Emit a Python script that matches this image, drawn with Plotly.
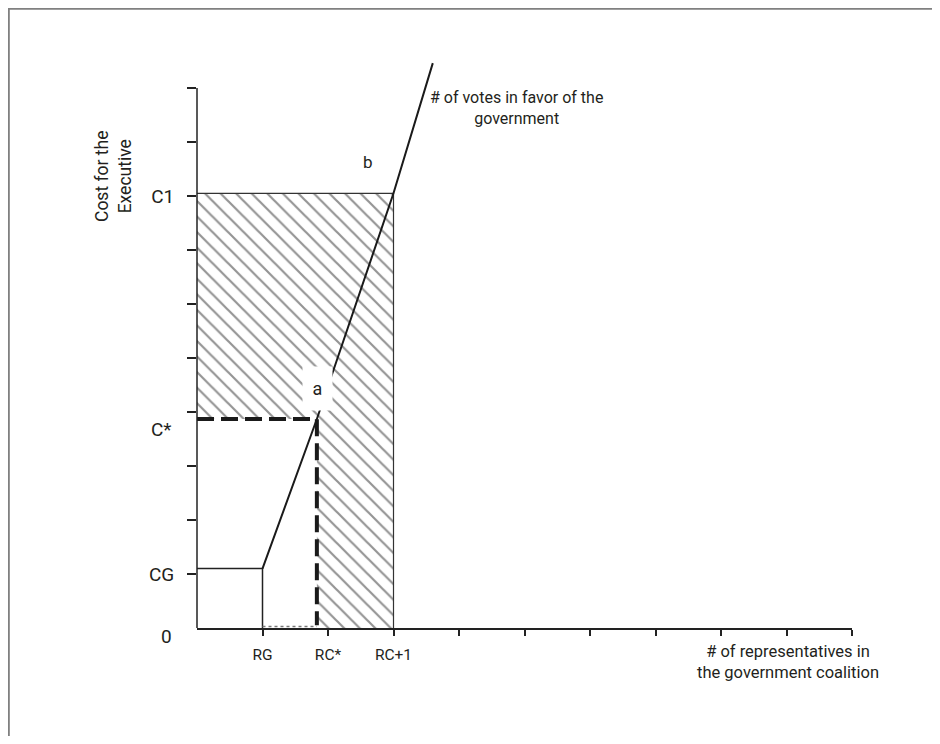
import plotly.graph_objects as go

# ---- data ----
x_tick_vals = [1, 2, 3, 4, 5, 6, 7, 8, 9, 10]
x_tick_text = ["RG", "RC*", "RC+1", "", "", "", "", "", "", ""]
y_tick_vals = [1, 2, 3, 4, 5, 6, 7, 8, 9, 10]
y_tick_text = ["CG", "", "", "", "", "", "", "C1", "", ""]

RG = 1.0          # representatives of the government party
RC_star = 1.83    # x of point a
RC1 = 3.0         # RC+1
CG = 1.1          # cost of government alone
C_star = 3.87     # cost at point a
C1 = 8.05         # cost at point b

vote_x = [RG, RC_star, RC1, 3.6]
vote_y = [CG, C_star, C1, 10.46]

hatch_x = [0, RC1, RC1, RC_star, RC_star, 0, 0]
hatch_y = [C1, C1, 0, 0, C_star, C_star, C1]

X_RANGE = [0, 10]
Y_RANGE = [0, 10.5]
Y_AXIS_TOP = 10

FONT = "Roboto, sans-serif"
INK = "#231f20"

# layout geometry (page has an 8px body margin)
OFF = 8
W, H = 924, 728
ML, MT = 189, 53
PW, PH = 655, 567
MR, MB = W - ML - PW, H - MT - PH


def px_x(p):
    """page pixel x -> paper x"""
    return (p - OFF - ML) / PW


def px_y(p):
    """page pixel y -> paper y"""
    return (MT + PH - (p - OFF)) / PH


def label(px, py, text, size, xanchor="center", **kw):
    return dict(x=px_x(px), y=px_y(py), xref="paper", yref="paper",
                text=text, showarrow=False, xanchor=xanchor, yanchor="middle",
                font=dict(size=size, color=INK, family=FONT), **kw)


fig = go.Figure()

# hatched region
fig.add_trace(go.Scatter(
    x=hatch_x, y=hatch_y, mode="lines", fill="toself",
    fillcolor="white",
    fillpattern=dict(shape="\\", fgcolor="#2a2a2a", bgcolor="white",
                     size=11, solidity=0.2),
    line=dict(width=0), hoverinfo="skip", showlegend=False))

# outline of hatched rectangle (top and right edges)
fig.add_trace(go.Scatter(
    x=[0, RC1, RC1], y=[C1, C1, 0], mode="lines",
    line=dict(color="#333", width=1.2), showlegend=False, hoverinfo="skip"))

# CG box
fig.add_trace(go.Scatter(
    x=[0, RG, RG], y=[CG, CG, 0], mode="lines",
    line=dict(color="#222", width=1.5), showlegend=False, hoverinfo="skip"))

# dotted segment along the axis
fig.add_trace(go.Scatter(
    x=[RG, RC_star], y=[0.03, 0.03], mode="lines",
    line=dict(color="#777", width=1.5, dash="dot"), showlegend=False,
    hoverinfo="skip"))

# dashed lines to point a
fig.add_trace(go.Scatter(
    x=[0, RC_star, RC_star], y=[C_star, C_star, 0.05], mode="lines",
    line=dict(color="#1a1a1a", width=4, dash="17px,7px"), showlegend=False,
    hoverinfo="skip"))

# votes in favor line
fig.add_trace(go.Scatter(
    x=vote_x, y=vote_y, mode="lines",
    line=dict(color="#1a1a1a", width=2), showlegend=False, hoverinfo="skip"))

annotations = [
    label(317.5, 388.5, "a", 18, bgcolor="white", width=29, height=43,
          borderpad=0),
    label(368, 162, "b", 17),
    label(174, 429, "C*", 19, xanchor="right"),
    label(174, 636, "0", 19, xanchor="right"),
    label(516, 108, "# of votes in favor of the<br>government", 16,
          align="center"),
    label(788, 662, "# of representatives in<br>the government coalition",
          16.5, align="center"),
    label(113, 177, "Cost for the<br>Executive", 17.5, textangle=-90),
]

shapes = [
    # y axis line (only up to the top tick)
    dict(type="line", xref="paper", yref="paper", x0=0, x1=0, y0=0,
         y1=(Y_AXIS_TOP - Y_RANGE[0]) / (Y_RANGE[1] - Y_RANGE[0]),
         line=dict(color="#222", width=1.5)),
    # figure frame
    dict(type="rect", xref="paper", yref="paper",
         x0=px_x(8.8), x1=px_x(990), y0=px_y(790), y1=px_y(8.8),
         line=dict(color="#808080", width=2)),
]

fig.update_layout(
    width=W, height=H,
    margin=dict(l=ML, r=MR, t=MT, b=MB, pad=0),
    paper_bgcolor="white", plot_bgcolor="white",
    showlegend=False,
    font=dict(family=FONT, color=INK),
    annotations=annotations, shapes=shapes,
    xaxis=dict(range=X_RANGE, showgrid=False, zeroline=False,
               showline=True, linecolor="#222", linewidth=1.5,
               ticks="outside", ticklen=6, tickwidth=1.5, tickcolor="#222",
               tickvals=x_tick_vals, ticktext=x_tick_text,
               ticklabelstandoff=6,
               tickfont=dict(size=15.5, color=INK, family=FONT),
               fixedrange=True),
    yaxis=dict(range=Y_RANGE, showgrid=False, zeroline=False,
               showline=False,
               ticks="outside", ticklen=9, tickwidth=1.5, tickcolor="#222",
               tickvals=y_tick_vals, ticktext=y_tick_text,
               ticklabelstandoff=9,
               tickfont=dict(size=19, color=INK, family=FONT), fixedrange=True),
)

fig.write_html("out.html")
